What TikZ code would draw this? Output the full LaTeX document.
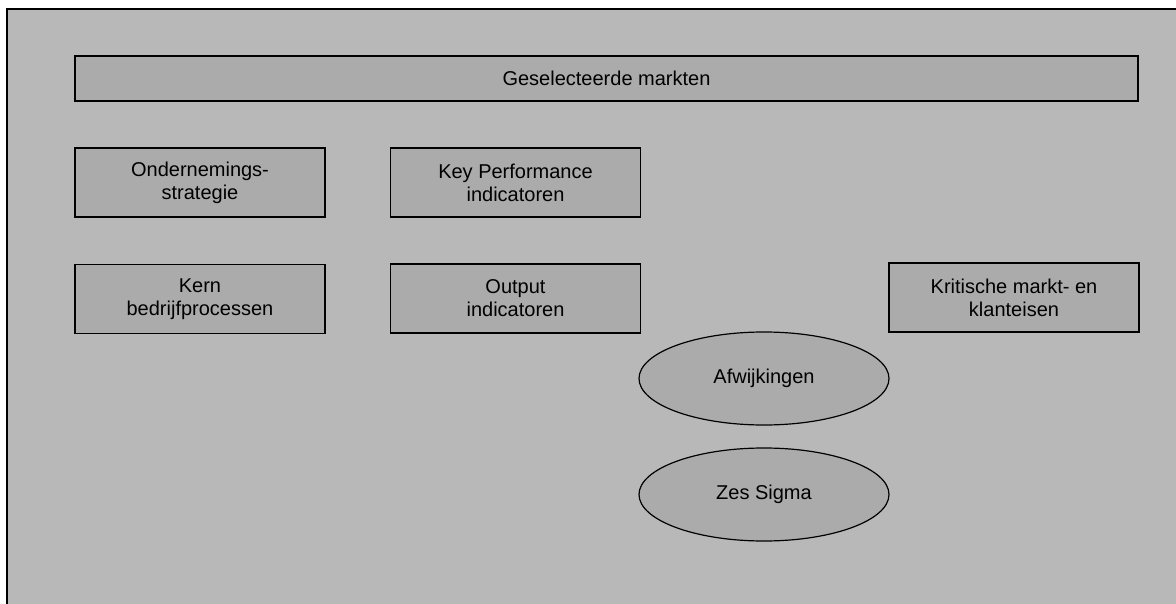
\documentclass[tikz,border=0pt]{standalone}
\usepackage{fontspec}
\setmainfont{Liberation Sans}
\usetikzlibrary{shapes.geometric}
\definecolor{bggray}{gray}{0.72}
\definecolor{boxgray}{gray}{0.67}

\begin{document}
\begin{tikzpicture}[x=0.5pt, y=-0.5pt,
                        box/.style={draw, line width=0.6pt, fill=boxgray, minimum width=125pt, minimum height=34.5pt, align=center, font=\fontsize{10}{11.5}\selectfont},
                        oval/.style={draw, ellipse, line width=0.6pt, fill=boxgray, minimum width=125pt, minimum height=46.5pt, inner sep=0pt, font=\fontsize{10}{11.5}\selectfont}]
                        \useasboundingbox (0, 0) rectangle (1176, 604);
                        \fill[bggray] (7, 9) rectangle (1176, 604);
                        \draw[line width=1pt] (7, 604) -- (7, 9) -- (1176, 9);

                        \node[box, minimum width=531.5pt, minimum height=22.5pt] (M) at (606.5, 78.5) {Geselecteerde markten};

                        \node[box] (O) at (200, 182.5) {Ondernemings-\\strategie};
                        \node[box] (K) at (515.5, 182.5) {Key Performance\\indicatoren};

                        \node[box] (B) at (200, 299) {Kern\\bedrijfprocessen};
                        \node[box] (U) at (515.5, 298.5) {Output\\indicatoren};
                        \node[box] (E) at (1014, 297.5) {Kritische markt- en\\klanteisen};

                        \node[oval] (A) at (764, 378.5) {Afwijkingen};
                        \node[oval] (Z) at (764, 494.5) {Zes Sigma};
                    \end{tikzpicture}
\end{document}
